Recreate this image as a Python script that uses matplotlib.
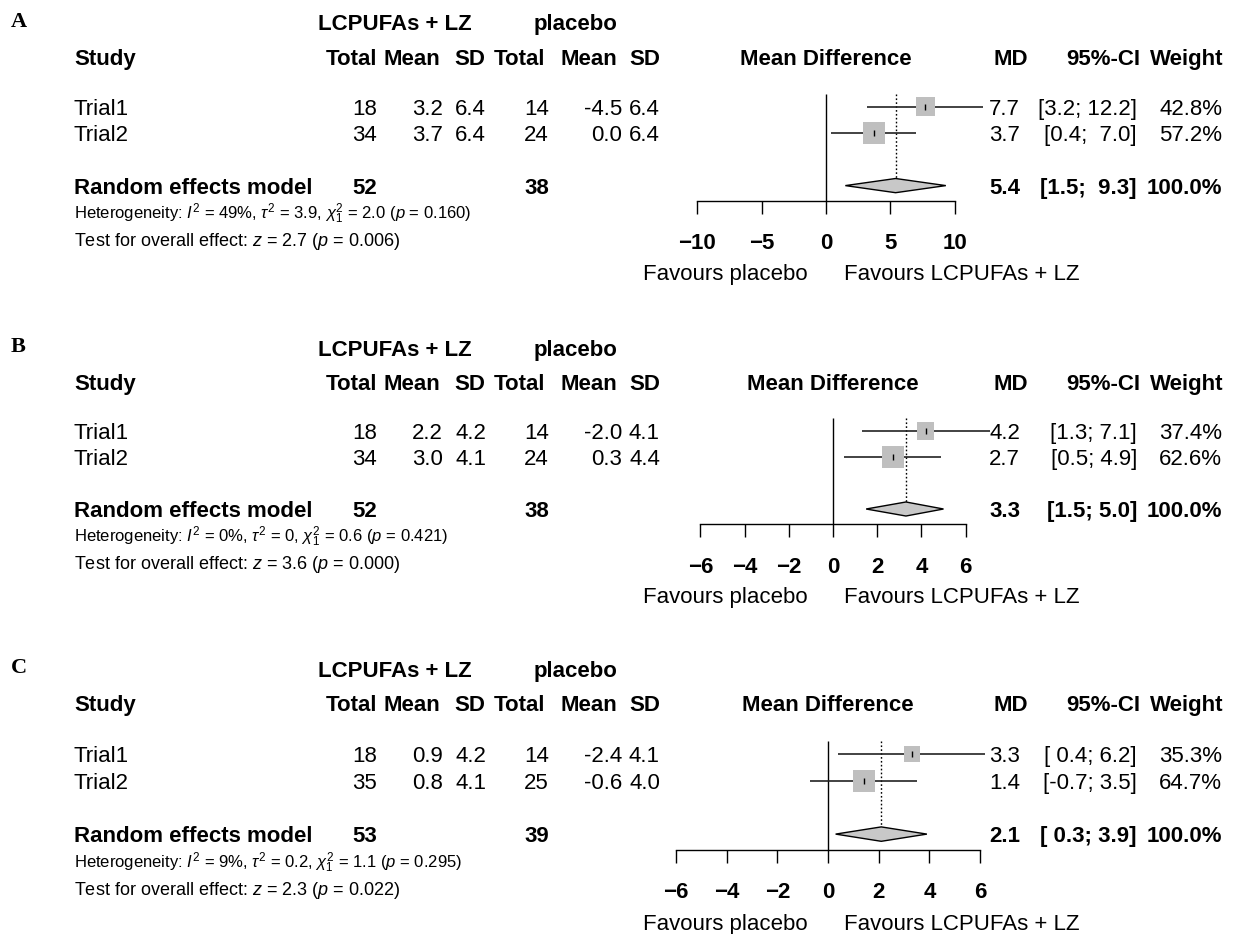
import matplotlib
matplotlib.use("Agg")
import matplotlib.pyplot as plt
from matplotlib import transforms
from matplotlib.patches import Polygon

plt.rcParams['font.family'] = ['Liberation Sans', 'DejaVu Sans']
plt.rcParams['mathtext.fontset'] = 'custom'
plt.rcParams['mathtext.rm'] = 'Liberation Sans'
plt.rcParams['mathtext.it'] = 'Liberation Sans:italic'

W, H = 1234, 934

studies = ["Trial1", "Trial2"]

# panel A
a_n_exp = [18, 34]
a_mean_exp = [3.2, 3.7]
a_sd_exp = [6.4, 6.4]
a_n_ctl = [14, 24]
a_mean_ctl = [-4.5, 0.0]
a_sd_ctl = [6.4, 6.4]
a_md = [7.7, 3.7]
a_lo = [3.2, 0.4]
a_hi = [12.2, 7.0]
a_weight = [42.8, 57.2]
a_pooled = [5.4, 1.5, 9.3]
a_totals = [52, 38]
a_het = ["49%", "3.9", "2.0", "0.160"]
a_test = ["2.7", "0.006"]
a_ticks = [-10, -5, 0, 5, 10]

# panel B
b_n_exp = [18, 34]
b_mean_exp = [2.2, 3.0]
b_sd_exp = [4.2, 4.1]
b_n_ctl = [14, 24]
b_mean_ctl = [-2.0, 0.3]
b_sd_ctl = [4.1, 4.4]
b_md = [4.2, 2.7]
b_lo = [1.3, 0.5]
b_hi = [7.1, 4.9]
b_weight = [37.4, 62.6]
b_pooled = [3.3, 1.5, 5.0]
b_totals = [52, 38]
b_het = ["0%", "0", "0.6", "0.421"]
b_test = ["3.6", "0.000"]
b_ticks = [-6, -4, -2, 0, 2, 4, 6]

# panel C
c_n_exp = [18, 35]
c_mean_exp = [0.9, 0.8]
c_sd_exp = [4.2, 4.1]
c_n_ctl = [14, 25]
c_mean_ctl = [-2.4, -0.6]
c_sd_ctl = [4.1, 4.0]
c_md = [3.3, 1.4]
c_lo = [0.4, -0.7]
c_hi = [6.2, 3.5]
c_weight = [35.3, 64.7]
c_pooled = [2.1, 0.3, 3.9]
c_totals = [53, 39]
c_het = ["9%", "0.2", "1.1", "0.295"]
c_test = ["2.3", "0.022"]
c_ticks = [-6, -4, -2, 0, 2, 4, 6]

fig = plt.figure(figsize=(W / 100, H / 100), dpi=100)

TXT = 16
HEAD_R = [377, 440, 485, 545, 617, 660]
DATA_R = [377, 443, 486, 549, 622, 660]


def ci_strings(lo, hi):
    los = [f"{v:.1f}" for v in lo]
    his = [f"{v:.1f}" for v in hi]
    wl = max(len(s) for s in los)
    wh = max(len(s) for s in his)
    return [f"[{l:>{wl}}; {h:>{wh}}]" for l, h in zip(los, his)]


def panel(letter, ytop, ybot, row0, rowh, zero, unit, ticks,
          n_exp, mean_exp, sd_exp, n_ctl, mean_ctl, sd_ctl,
          md, lo, hi, weight, pooled, totals, het, test):
    ax = fig.add_axes([0, 1 - ybot / H, 1, (ybot - ytop) / H])
    ax.set_facecolor('none')
    ax.set_xlim(-zero / unit, (W - zero) / unit)
    ax.set_ylim((ybot - row0) / rowh, (ytop - row0) / rowh)
    tr = transforms.blended_transform_factory(ax.transAxes, ax.transData)

    def put(xpx, row, s, size=TXT, bold=False, ha='left', family=None):
        # row is the vertical centre of the capitals
        y = row + 0.358 * size * 100 / 72 / rowh
        kw = {'family': family} if family else {}
        ax.text(xpx / W, y, s, transform=tr, fontsize=size,
                fontweight='bold' if bold else 'normal', ha=ha, va='baseline', **kw)

    put(11, -3.35, letter, size=16, bold=True, family='Liberation Serif')
    put(395, -3.2, "LCPUFAs + LZ", bold=True, ha='center')
    put(576, -3.2, "placebo", bold=True, ha='center')
    put(74, -1.9, "Study", bold=True)
    for x, s in zip(HEAD_R, ["Total", "Mean", "SD", "Total", "Mean", "SD"]):
        put(x, -1.9, s, bold=True, ha='right')
    put(zero, -1.9, "Mean Difference", bold=True, ha='center')
    put(1011, -1.9, "MD", bold=True, ha='center')
    put(1140, -1.9, "95%-CI", bold=True, ha='right')
    put(1223, -1.9, "Weight", bold=True, ha='right')

    cis = ci_strings(lo + [pooled[1]], hi + [pooled[2]])
    for i, name in enumerate(studies):
        put(74, i, name)
        cols = [f"{n_exp[i]}", f"{mean_exp[i]:.1f}", f"{sd_exp[i]:.1f}",
                f"{n_ctl[i]}", f"{mean_ctl[i]:.1f}", f"{sd_ctl[i]:.1f}"]
        for x, s in zip(DATA_R, cols):
            put(x, i, s, ha='right')
        put(1020, i, f"{md[i]:.1f}", ha='right')
        put(1137, i, cis[i], ha='right')
        put(1222, i, f"{weight[i]:.1f}%", ha='right')

    put(74, 3, "Random effects model", bold=True)
    put(DATA_R[0], 3, f"{totals[0]}", bold=True, ha='right')
    put(DATA_R[3], 3, f"{totals[1]}", bold=True, ha='right')
    put(1020, 3, f"{pooled[0]:.1f}", bold=True, ha='right')
    put(1137, 3, cis[-1], bold=True, ha='right')
    put(1222, 3, "100.0%", bold=True, ha='right')

    het_txt = ("Heterogeneity: $I^2$ = " + het[0] + r", $\tau^2$ = " + het[1]
               + r", $\chi^2_1$ = " + het[2] + " ($p$ = " + het[3] + ")")
    put(74, 4.05, het_txt, size=12.0)
    put(74, 5.05, "Test for overall effect: $z$ = " + test[0] + " ($p$ = " + test[1] + ")", size=13)

    # forest marks
    axis_row = 3.58
    ax.vlines(0, -0.5, axis_row, color='black', lw=1.0)
    h = 0.27
    ax.vlines(pooled[0], -0.5, 3 - h, color='black', lw=1.0, linestyles=(0, (1.2, 1.6)))
    rows = list(range(len(md)))
    ax.hlines(rows, lo, hi, color='#222222', lw=1.2)
    side = [22 * (wt / max(weight)) ** 0.5 for wt in weight]
    ax.scatter(md, rows, marker='s', s=[(sz * 0.72) ** 2 for sz in side],
               color='#bfbfbf', edgecolors='none', zorder=3)
    ax.scatter(md, rows, marker='|', s=22, color='black', linewidths=1.0, zorder=4)
    ax.add_patch(Polygon([(pooled[1], 3), (pooled[0], 3 - h), (pooled[2], 3), (pooled[0], 3 + h)],
                         closed=True, facecolor='#c8c8c8', edgecolor='black', lw=1.0, zorder=3))

    for sp in ['left', 'right', 'top']:
        ax.spines[sp].set_visible(False)
    ax.spines['bottom'].set_position(('data', axis_row))
    ax.spines['bottom'].set_bounds(ticks[0], ticks[-1])
    ax.spines['bottom'].set_linewidth(1.0)
    ax.set_yticks([])
    ax.set_xticks(ticks)
    ax.tick_params(axis='x', direction='out', length=9.4, width=1.0, pad=14, labelsize=16)
    for lab in ax.get_xticklabels():
        lab.set_fontweight('bold')

    put(808, 6.3, "Favours placebo", size=16, ha='right')
    put(844, 6.3, "Favours LCPUFAs + LZ", size=16, ha='left')
    return ax


panel("A", 0, 305, 106.7, 26.3, 826, 12.885, a_ticks,
      a_n_exp, a_mean_exp, a_sd_exp, a_n_ctl, a_mean_ctl, a_sd_ctl,
      a_md, a_lo, a_hi, a_weight, a_pooled, a_totals, a_het, a_test)
panel("B", 305, 628, 431, 26.0, 833, 22.1, b_ticks,
      b_n_exp, b_mean_exp, b_sd_exp, b_n_ctl, b_mean_ctl, b_sd_ctl,
      b_md, b_lo, b_hi, b_weight, b_pooled, b_totals, b_het, b_test)
panel("C", 628, 934, 754, 26.7, 828, 25.36, c_ticks,
      c_n_exp, c_mean_exp, c_sd_exp, c_n_ctl, c_mean_ctl, c_sd_ctl,
      c_md, c_lo, c_hi, c_weight, c_pooled, c_totals, c_het, c_test)

fig.savefig("out.png", dpi=100)
